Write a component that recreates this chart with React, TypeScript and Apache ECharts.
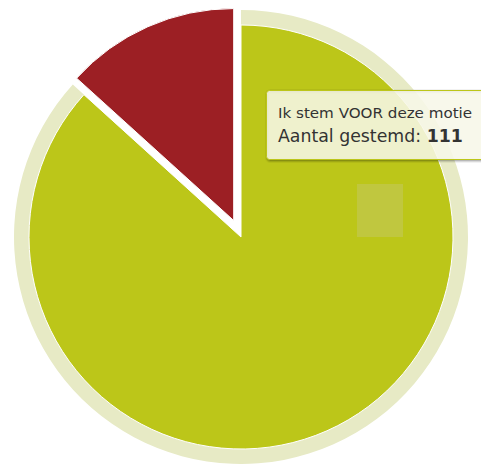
import React, { useEffect, useRef } from "react";
import * as echarts from "echarts";

const categories = ["Ik stem VOOR deze motie", "Ik stem TEGEN deze motie"];
const values = [111, 17];
const colors = ["#bcc619", "#9c1f24"];
const tooltipTitle = "Ik stem VOOR deze motie";
const tooltipLabel = "Aantal gestemd";

export default function App() {
  const ref = useRef<HTMLDivElement>(null);
  useEffect(() => {
    if (!ref.current) return;
    const chart = echarts.init(ref.current, undefined, { renderer: "svg" });
    const font = "'DejaVu Sans', Verdana, sans-serif";
    const box = { x: 266.5, y: 90.5, width: 230, height: 69, r: 3 };
    const shadows = [3, 2, 1].map((w, i) => ({
      type: "rect",
      z: 19,
      silent: true,
      x: 1,
      y: 1,
      shape: box,
      style: { fill: "none", stroke: `rgba(0,0,0,${0.05 * (i + 1)})`, lineWidth: w * 2 - 1 },
    }));
    chart.setOption({
      animation: false,
      backgroundColor: "#ffffff",
      series: [
        {
          type: "pie",
          silent: true,
          z: 1,
          center: [241, 237],
          radius: [210, 227],
          startAngle: 90,
          label: { show: false },
          labelLine: { show: false },
          data: categories.map((c, i) => ({
            name: c,
            value: values[i],
            itemStyle: { color: i === 0 ? "#e7eac5" : "rgba(0,0,0,0)" },
          })),
        },
        {
          type: "pie",
          z: 2,
          center: [241, 237],
          radius: [0, 212],
          startAngle: 90,
          selectedMode: "single",
          selectedOffset: 18,
          label: { show: false },
          labelLine: { show: false },
          itemStyle: { borderColor: "#ffffff", borderWidth: 1 },
          data: categories.map((c, i) => ({
            name: c,
            value: values[i],
            selected: i === 1,
            itemStyle: { color: colors[i] },
          })),
        },
      ],
      graphic: [
        {
          type: "rect",
          z: 10,
          shape: { x: 357, y: 184, width: 46, height: 53 },
          style: { fill: "#c0c73f" },
        },
        ...shadows,
        {
          type: "rect",
          z: 20,
          shape: box,
          style: {
            fill: "rgba(247,247,232,0.87)",
            stroke: "#bcc619",
            lineWidth: 1,
          },
        },
        {
          type: "text",
          z: 21,
          x: 278,
          y: 113,
          scaleX: 1.08,
          style: {
            text: tooltipTitle,
            fill: "#333333",
            font: `14px ${font}`,
            verticalAlign: "middle",
          },
        },
        {
          type: "text",
          z: 21,
          x: 278,
          y: 136,
          scaleX: 1.02,
          style: {
            text: `{a|${tooltipLabel}: }{b|${values[0]}}`,
            fill: "#333333",
            font: `17px ${font}`,
            verticalAlign: "middle",
            rich: {
              a: { fontSize: 17, fontFamily: font, fill: "#333333" },
              b: { fontSize: 17, fontFamily: font, fontWeight: "bold", fill: "#333333" },
            },
          },
        },
      ],
    });
    return () => chart.dispose();
  }, []);
  return (
    <div
      ref={ref}
      style={{ position: "fixed", left: 0, top: 0, width: 481, height: 464 }}
    />
  );
}
